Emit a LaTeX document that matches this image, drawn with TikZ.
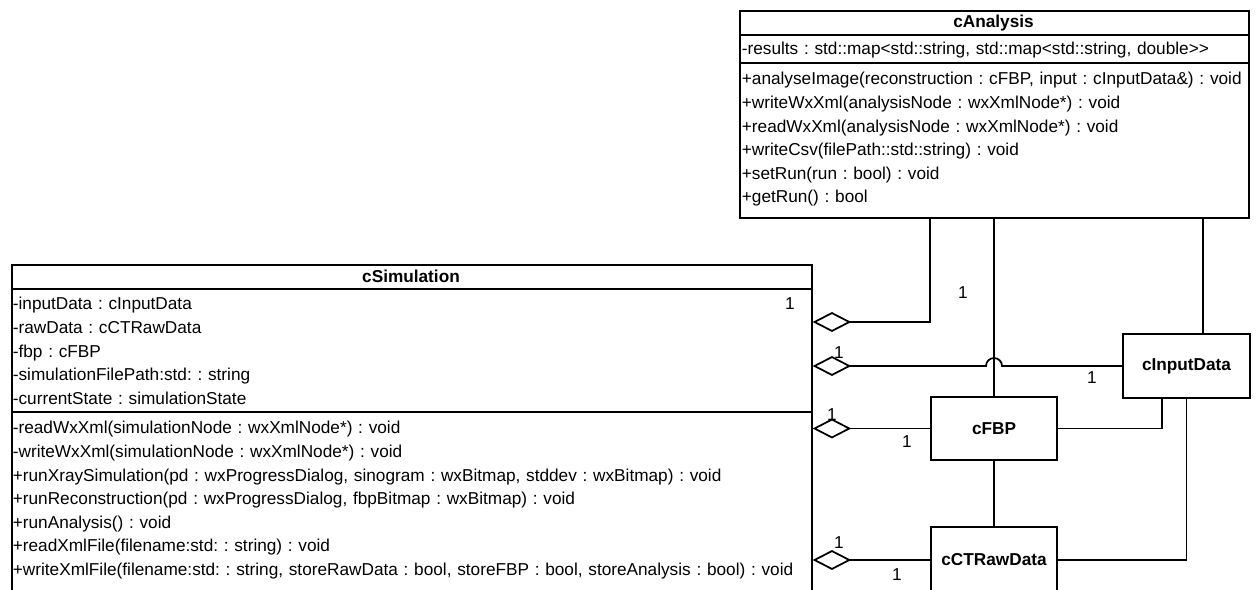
\documentclass[tikz,border=0pt]{standalone}
\usepackage{fontspec}
\setmainfont{Liberation Sans}
\usetikzlibrary{arrows.meta}
\frenchspacing

\begin{document}
\begin{tikzpicture}[x=0.02cm,y=-0.02cm,line width=1pt,
    font=\fontsize{9.8pt}{13.4pt}\selectfont,
    cls/.style={draw,rectangle,anchor=north west,inner sep=0pt},
    clsname/.style={anchor=base,inner sep=0pt,font=\fontsize{9.8pt}{12pt}\selectfont\bfseries},
    members/.style={anchor=base west,inner sep=0pt,align=left},
    part/.style={draw,rectangle,inner sep=0pt,minimum width=2.52cm,minimum height=1.26cm,
      font=\fontsize{9.8pt}{12pt}\selectfont\bfseries},
    mult/.style={inner sep=0pt},
    agg/.style={{Diamond[open,length=22pt,width=11.3pt]}-}]
      \useasboundingbox (0,0) rectangle (1256,590);
      \clip (0,0) rectangle (1256,590);

      \node[cls,minimum width=10.18cm,minimum height=4.14cm] (ana) at (739,10) {};
      \node[clsname] (anaName) at (993.5,28) {cAnalysis};
      \draw (ana.west |- 0,35) -- (ana.east |- 0,35)
            (ana.west |- 0,63) -- (ana.east |- 0,63);
      \node[members,text width=12cm] (anaAttr) at (741,55)
        {-results : std::map<std::string, std::map<std::string, double>{}>};
      \node[members,text width=12cm] (anaOps) at (741,85)
        {+analyseImage(reconstruction : cFBP, input : cInputData\&) : void\\
         +writeWxXml(analysisNode : wxXmlNode*) : void\\
         +readWxXml(analysisNode : wxXmlNode*) : void\\
         +writeCsv(filePath::std::string) : void\\
         +setRun(run : bool) : void\\
         +getRun() : bool};

      \node[cls,minimum width=16cm,minimum height=6.8cm] (sim) at (11,264) {};
      \node[clsname] (simName) at (411,283) {cSimulation};
      \draw (sim.west |- 0,289) -- (sim.east |- 0,289)
            (sim.west |- 0,412) -- (sim.east |- 0,412);
      \node[members,text width=16cm] (simAttr) at (12,310)
        {-inputData : cInputData\\
         -rawData : cCTRawData\\
         -fbp : cFBP\\
         -simulationFilePath:std: : string\\
         -currentState : simulationState};
      \node[members,text width=16cm] (simOps) at (12,434)
        {-readWxXml(simulationNode : wxXmlNode*) : void\\
         -writeWxXml(simulationNode : wxXmlNode*) : void\\
         +runXraySimulation(pd : wxProgressDialog, sinogram : wxBitmap, stddev : wxBitmap) : void\\
         +runReconstruction(pd : wxProgressDialog, fbpBitmap : wxBitmap) : void\\
         +runAnalysis() : void\\
         +readXmlFile(filename:std: : string) : void\\
         +writeXmlFile(filename:std: : string, storeRawData : bool, storeFBP : bool, storeAnalysis : bool) : void};

      \node[part,minimum width=2.54cm,minimum height=1.28cm] (inp) at (1186.5,366) {cInputData};
      \node[part] (fbp) at (994,428.5) {cFBP};
      \node[part,minimum height=1.32cm] (raw) at (994,560) {cCTRawData};

      \draw[agg] (sim.east |- 0,322) -| (ana.south -| 930,0);
      \draw[agg] (sim.east |- inp.west) -- (986,366) arc (180:360:8) -- (inp.west);
      \draw (ana.south -| fbp.north) -- (fbp.north);
      \draw (ana.south -| 1203,0) -- (inp.north -| 1203,0);
      \draw[agg] (sim.east |- fbp.west) -- (fbp.west);
      \draw (fbp.east) -| (inp.south -| 1162,0);
      \draw (fbp.south) -- (raw.north);
      \draw[agg] (sim.east |- raw.west) -- (raw.west);
      \draw (raw.east) -| (inp.south);

      \node[mult] (mSim) at (790,304) {1};
      \node[mult] (mAna) at (963,293) {1};
      \node[mult] (mInpA) at (839,353) {1};
      \node[mult] (mInpB) at (1092,378) {1};
      \node[mult] (mFbpA) at (832,415) {1};
      \node[mult] (mFbpB) at (907,442) {1};
      \node[mult] (mRawA) at (839,543) {1};
      \node[mult] (mRawB) at (897,575) {1};
    \end{tikzpicture}
\end{document}
